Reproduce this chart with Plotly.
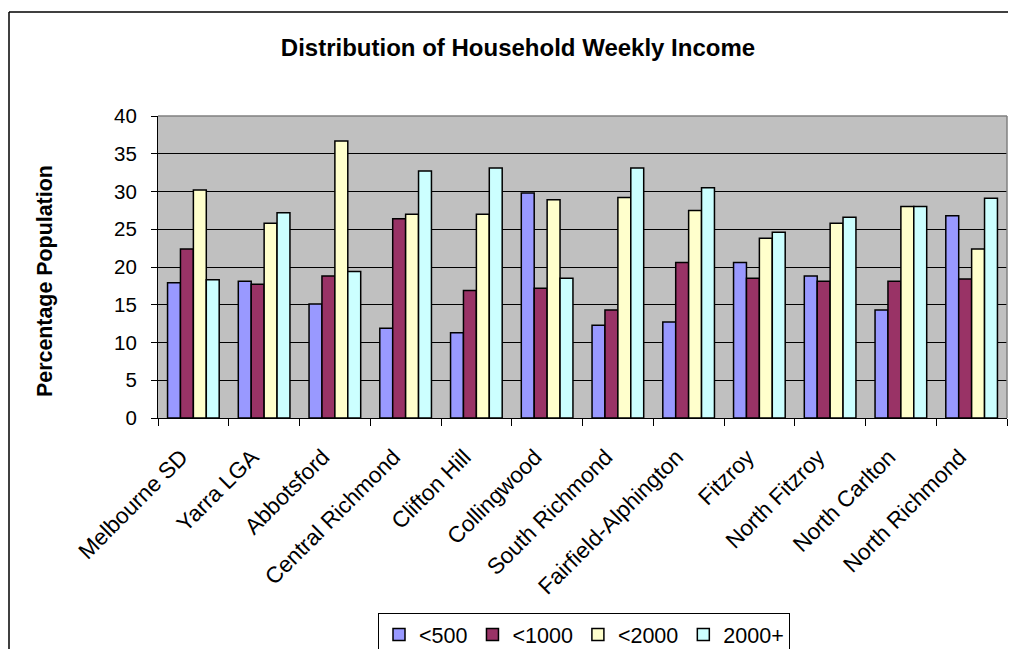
import plotly.graph_objects as go

categories = ["Melbourne SD", "Yarra LGA", "Abbotsford", "Central Richmond", "Clifton Hill",
              "Collingwood", "South Richmond", "Fairfield-Alphington", "Fitzroy",
              "North Fitzroy", "North Carlton", "North Richmond"]
series_names = ["<500", "<1000", "<2000", "2000+"]
under_500 = [17.9, 18.1, 15.1, 11.9, 11.3, 29.8, 12.3, 12.7, 20.6, 18.8, 14.3, 26.8]
under_1000 = [22.4, 17.7, 18.8, 26.4, 16.9, 17.2, 14.3, 20.6, 18.5, 18.1, 18.1, 18.4]
under_2000 = [30.2, 25.8, 36.7, 27.0, 27.0, 28.9, 29.2, 27.5, 23.8, 25.8, 28.0, 22.4]
over_2000 = [18.3, 27.2, 19.4, 32.7, 33.1, 18.5, 33.1, 30.5, 24.6, 26.6, 28.0, 29.1]
colors = ["#9999FF", "#993366", "#FFFFCC", "#CCFFFF"]

FONT = "Liberation Sans, Arial, sans-serif"

fig = go.Figure()
for name, vals, col in zip(series_names, [under_500, under_1000, under_2000, over_2000], colors):
    fig.add_trace(go.Bar(x=categories, y=vals, name=name,
                         marker=dict(color=col, line=dict(color="black", width=1.5))))

OFF = 8  # page body margin of the browser
W, H = 1016 - 2 * OFF, 657 - 2 * OFF  # fit inside the window without scrollbars
# plot area in screen pixels: left 158, right 1007, top 116, bottom 418
L = 158 - OFF
T = 116 - OFF
R = W - (1007 - OFF)
B = H - (418 - OFF)
pw = W - L - R
ph = H - T - B


def px_x(p):
    return (p - OFF - L) / pw


def px_y(p):
    return (H - B - (p - OFF)) / ph


fig.update_layout(
    width=W, height=H,
    margin=dict(l=L, r=R, t=T, b=B, autoexpand=False),
    paper_bgcolor="white",
    plot_bgcolor="#C0C0C0",
    barmode="group", bargap=0.27, bargroupgap=0,
    font=dict(family=FONT, size=21, color="black"),
    title=dict(text="<b>Distribution of Household Weekly Income</b>",
               x=(518 - OFF) / W, xref="container", xanchor="center",
               y=1 - (48 - OFF) / H, yref="container", yanchor="middle",
               font=dict(family=FONT, size=24, color="black")),
    showlegend=True,
    legend=dict(orientation="h", x=px_x(584), xanchor="center", y=px_y(613), yanchor="top",
                bordercolor="black", borderwidth=1, bgcolor="white",
                font=dict(family=FONT, size=21.5), itemwidth=30, traceorder="normal",
                tracegroupgap=0),
    xaxis=dict(type="category", tickangle=-45, ticks="outside", tickson="boundaries",
               ticklen=7, tickcolor="black", showline=True, linecolor="black", linewidth=1,
               mirror=False, tickfont=dict(family=FONT, size=22.5), showgrid=False,
               ticklabelstandoff=16, ticklabelshift=-12, automargin=False),
    yaxis=dict(range=[0, 40], dtick=5, ticks="outside", ticklen=6, tickcolor="black",
               showline=True, linecolor="black", linewidth=1, gridcolor="black", gridwidth=1,
               zeroline=False, tickfont=dict(family=FONT, size=20.5), ticklabelstandoff=10,
               automargin=False),
)

fig.add_annotation(text="<b>Percentage Population</b>", xref="paper", yref="paper",
                   x=px_x(45), y=px_y(281), textangle=-90, showarrow=False,
                   xanchor="center", yanchor="middle",
                   font=dict(family=FONT, size=21.4, color="black"))

# plot-area gray border top/right
fig.add_shape(type="line", xref="paper", yref="paper", x0=0, x1=1, y0=1, y1=1,
              line=dict(color="#808080", width=1.5), layer="above")
fig.add_shape(type="line", xref="paper", yref="paper", x0=1, x1=1, y0=0, y1=1,
              line=dict(color="#808080", width=1.5), layer="above")
# outer chart border: only its left and top edges fall inside the picture
fig.add_shape(type="line", xref="paper", yref="paper",
              x0=px_x(OFF + 1), x1=px_x(OFF + 1), y0=px_y(12), y1=px_y(700),
              line=dict(color="black", width=1.5), layer="above")
fig.add_shape(type="line", xref="paper", yref="paper",
              x0=px_x(OFF + 1), x1=px_x(1060), y0=px_y(12), y1=px_y(12),
              line=dict(color="black", width=1.5), layer="above")

fig.write_html("out.html")
